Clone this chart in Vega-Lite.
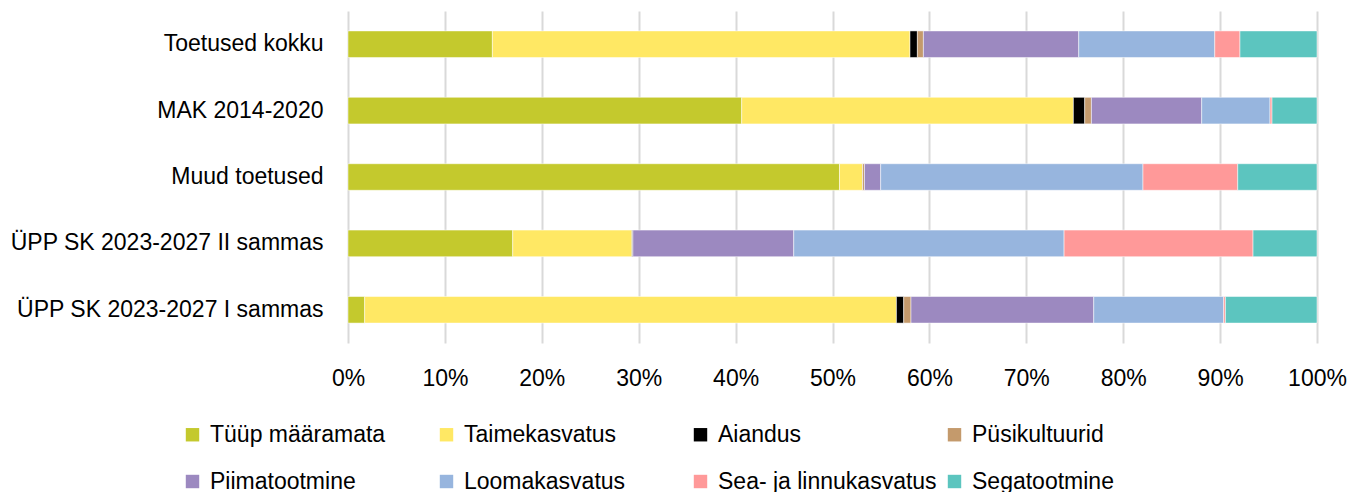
{
  "$schema": "https://vega.github.io/schema/vega-lite/v6.json",
  "autosize": {"type": "none"},
  "width": 969,
  "height": 332,
  "padding": {"left": 348, "top": 11, "right": 32, "bottom": 149},
  "background": "white",
  "config": {
    "font": "Liberation Sans",
    "view": {"stroke": null}
  },
  "data": {
    "values": [
      {"cat": "Toetused kokku", "type": "Tüüp määramata", "o": 1, "v": 14.9},
      {"cat": "Toetused kokku", "type": "Taimekasvatus", "o": 2, "v": 43.1},
      {"cat": "Toetused kokku", "type": "Aiandus", "o": 3, "v": 0.76},
      {"cat": "Toetused kokku", "type": "Püsikultuurid", "o": 4, "v": 0.62},
      {"cat": "Toetused kokku", "type": "Piimatootmine", "o": 5, "v": 16.03},
      {"cat": "Toetused kokku", "type": "Loomakasvatus", "o": 6, "v": 14.04},
      {"cat": "Toetused kokku", "type": "Sea- ja linnukasvatus", "o": 7, "v": 2.6},
      {"cat": "Toetused kokku", "type": "Segatootmine", "o": 8, "v": 7.95},
      {"cat": "MAK 2014-2020", "type": "Tüüp määramata", "o": 1, "v": 40.63},
      {"cat": "MAK 2014-2020", "type": "Taimekasvatus", "o": 2, "v": 34.23},
      {"cat": "MAK 2014-2020", "type": "Aiandus", "o": 3, "v": 1.17},
      {"cat": "MAK 2014-2020", "type": "Püsikultuurid", "o": 4, "v": 0.69},
      {"cat": "MAK 2014-2020", "type": "Piimatootmine", "o": 5, "v": 11.38},
      {"cat": "MAK 2014-2020", "type": "Loomakasvatus", "o": 6, "v": 7.05},
      {"cat": "MAK 2014-2020", "type": "Sea- ja linnukasvatus", "o": 7, "v": 0.21},
      {"cat": "MAK 2014-2020", "type": "Segatootmine", "o": 8, "v": 4.64},
      {"cat": "Muud toetused", "type": "Tüüp määramata", "o": 1, "v": 50.72},
      {"cat": "Muud toetused", "type": "Taimekasvatus", "o": 2, "v": 2.38},
      {"cat": "Muud toetused", "type": "Aiandus", "o": 3, "v": 0.0},
      {"cat": "Muud toetused", "type": "Püsikultuurid", "o": 4, "v": 0.2},
      {"cat": "Muud toetused", "type": "Piimatootmine", "o": 5, "v": 1.67},
      {"cat": "Muud toetused", "type": "Loomakasvatus", "o": 6, "v": 27.07},
      {"cat": "Muud toetused", "type": "Sea- ja linnukasvatus", "o": 7, "v": 9.78},
      {"cat": "Muud toetused", "type": "Segatootmine", "o": 8, "v": 8.18},
      {"cat": "ÜPP SK 2023-2027 II sammas", "type": "Tüüp määramata", "o": 1, "v": 17.0},
      {"cat": "ÜPP SK 2023-2027 II sammas", "type": "Taimekasvatus", "o": 2, "v": 12.3},
      {"cat": "ÜPP SK 2023-2027 II sammas", "type": "Aiandus", "o": 3, "v": 0.1},
      {"cat": "ÜPP SK 2023-2027 II sammas", "type": "Püsikultuurid", "o": 4, "v": 0.0},
      {"cat": "ÜPP SK 2023-2027 II sammas", "type": "Piimatootmine", "o": 5, "v": 16.6},
      {"cat": "ÜPP SK 2023-2027 II sammas", "type": "Loomakasvatus", "o": 6, "v": 27.9},
      {"cat": "ÜPP SK 2023-2027 II sammas", "type": "Sea- ja linnukasvatus", "o": 7, "v": 19.5},
      {"cat": "ÜPP SK 2023-2027 II sammas", "type": "Segatootmine", "o": 8, "v": 6.6},
      {"cat": "ÜPP SK 2023-2027 I sammas", "type": "Tüüp määramata", "o": 1, "v": 1.72},
      {"cat": "ÜPP SK 2023-2027 I sammas", "type": "Taimekasvatus", "o": 2, "v": 54.88},
      {"cat": "ÜPP SK 2023-2027 I sammas", "type": "Aiandus", "o": 3, "v": 0.75},
      {"cat": "ÜPP SK 2023-2027 I sammas", "type": "Püsikultuurid", "o": 4, "v": 0.75},
      {"cat": "ÜPP SK 2023-2027 I sammas", "type": "Piimatootmine", "o": 5, "v": 18.86},
      {"cat": "ÜPP SK 2023-2027 I sammas", "type": "Loomakasvatus", "o": 6, "v": 13.41},
      {"cat": "ÜPP SK 2023-2027 I sammas", "type": "Sea- ja linnukasvatus", "o": 7, "v": 0.18},
      {"cat": "ÜPP SK 2023-2027 I sammas", "type": "Segatootmine", "o": 8, "v": 9.45}
    ]
  },
  "mark": {"type": "bar", "stroke": "white", "strokeWidth": 0.5},
  "encoding": {
    "y": {
      "field": "cat",
      "type": "nominal",
      "sort": ["Toetused kokku", "MAK 2014-2020", "Muud toetused", "ÜPP SK 2023-2027 II sammas", "ÜPP SK 2023-2027 I sammas"],
      "scale": {"paddingInner": 0.6, "paddingOuter": 0.3},
      "axis": {
        "title": null,
        "domain": false,
        "ticks": false,
        "labelFontSize": 23,
        "labelColor": "#000000",
        "labelPadding": 25,
        "labelLimit": 400
      }
    },
    "x": {
      "field": "v",
      "type": "quantitative",
      "stack": "normalize",
      "scale": {"domain": [0, 1]},
      "axis": {
        "title": null,
        "format": ".0%",
        "values": [0, 0.1, 0.2, 0.3, 0.4, 0.5, 0.6, 0.7, 0.8, 0.9, 1],
        "labelOverlap": false,
        "domain": false,
        "ticks": false,
        "grid": true,
        "gridColor": "#D9D9D9",
        "gridWidth": 2,
        "labelFontSize": 23,
        "labelColor": "#000000",
        "labelPadding": 24,
        "labelFlush": false
      }
    },
    "order": {"field": "o", "type": "quantitative"},
    "color": {
      "field": "type",
      "type": "nominal",
      "scale": {
        "domain": ["Tüüp määramata", "Taimekasvatus", "Aiandus", "Püsikultuurid", "Piimatootmine", "Loomakasvatus", "Sea- ja linnukasvatus", "Segatootmine"],
        "range": ["#C4C92D", "#FFE864", "#000000", "#C49A6C", "#9C89C0", "#97B5DE", "#FF9999", "#5CC5BF"]
      },
      "legend": {
        "title": null,
        "orient": "none",
        "legendX": -167,
        "legendY": 412,
        "direction": "horizontal",
        "columns": 4,
        "gridAlign": "all",
        "columnPadding": 6,
        "rowPadding": 23,
        "symbolType": "square",
        "symbolSize": 180,
        "symbolStrokeWidth": 0,
        "labelFontSize": 23,
        "labelColor": "#000000",
        "labelOffset": 6,
        "labelLimit": 400
      }
    }
  }
}
